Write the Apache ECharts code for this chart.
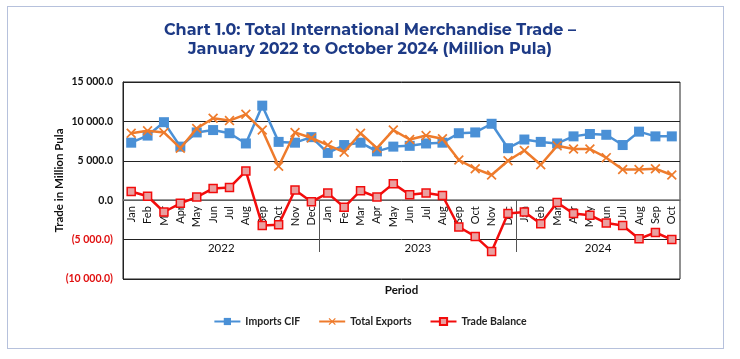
<!DOCTYPE html>
<html><head><meta charset="utf-8">
<script src="https://cdn.jsdelivr.net/npm/echarts@6/dist/echarts.min.js"></script>
<style>
html,body{margin:0;padding:0;background:#fff;}
#frame{position:absolute;left:7px;top:6px;width:717px;height:343px;border:1.5px solid #b6c1dc;box-sizing:border-box;}
#c{position:absolute;left:0;top:0;width:740px;height:359px;}
</style>
</head><body>
<div id="frame"></div>
<div id="c"></div>
<script>
const months = ['Jan','Feb','Mar','Apr','May','Jun','Jul','Aug','Sep','Oct','Nov','Dec',
  'Jan','Feb','Mar','Apr','May','Jun','Jul','Aug','Sep','Oct','Nov','Dec',
  'Jan','Feb','Mar','Apr','May','Jun','Jul','Aug','Sep','Oct'];
const years = ['2022','2023','2024'];
const monthsPerYear = [12, 12, 10];
const importsCIF = [7300,8200,9900,6800,8600,8900,8500,7200,12000,7400,7300,8000,
  6000,7000,7300,6200,6800,6900,7200,7300,8500,8600,9700,6600,
  7700,7400,7200,8100,8400,8300,7000,8700,8100,8100];
const totalExports = [8500,8800,8600,6600,9100,10400,10100,10900,8900,4300,8600,7900,
  7000,6100,8500,6600,8900,7700,8200,7800,5100,4000,3200,5000,
  6300,4500,6900,6500,6500,5400,3900,3900,4000,3200];
const tradeBalance = [1100,500,-1500,-400,400,1500,1600,3700,-3200,-3100,1300,-200,
  900,-900,1200,400,2100,700,900,600,-3400,-4600,-6500,-1700,
  -1500,-3000,-300,-1700,-1900,-2900,-3200,-4900,-4100,-5000];
const yTicks = [-10000,-5000,0,5000,10000,15000];

// year label centres and separators derived from months per year
const yearCentres = [], yearBounds = [];
let start = 0;
monthsPerYear.forEach((n,i)=>{ yearCentres.push(start + (n-1)/2); start += n; if(i<monthsPerYear.length-1) yearBounds.push(start-0.5); });

function fmt(v){
  const a = Math.abs(v);
  let s = a.toFixed(1);
  let [ip, dp] = s.split('.');
  ip = ip.replace(/\B(?=(\d{3})+(?!\d))/g, ' ');
  s = ip + '.' + dp;
  return v < 0 ? '{neg|(' + s + ')}' : '{pos|' + s + '}';
}

// layout
const H = 359, gridTop = 82, gridBottom = 80;
const plotH = H - gridTop - gridBottom;
const yMin = yTicks[0], yMax = yTicks[yTicks.length-1];
const zeroOffset = -plotH * (0 - yMin) / (yMax - yMin); // lift month axis to the zero line

const chart = echarts.init(document.getElementById('c'), null, {renderer:'canvas'});
const font = 'Lato, "Open Sans", sans-serif';
const xSym = 'path://M0,1.2L1.2,0L5,3.8L8.8,0L10,1.2L6.2,5L10,8.8L8.8,10L5,6.2L1.2,10L0,8.8L3.8,5Z';
chart.setOption({
  animation:false,
  title:{
    text:'Chart 1.0: Total International Merchandise Trade –\nJanuary 2022 to October 2024 (Million Pula)',
    left:'center', top:16,
    textStyle:{fontFamily:'Montserrat, Inter, sans-serif', fontWeight:'bold', fontSize:16, color:'#1d3a86', lineHeight:19}
  },
  legend:{
    top:311, left:'center', itemWidth:26, itemHeight:9, itemGap:18,
    textStyle:{fontFamily:font, fontSize:10.5, fontWeight:'bold', color:'#222'},
    data:['Imports CIF','Total Exports','Trade Balance']
  },
  grid:{left:123, right:60, top:gridTop, bottom:gridBottom, show:true, borderColor:'#222', borderWidth:1,
    containLabel:false, outerBoundsMode:'none'},
  xAxis:[{
    type:'category', data:months, boundaryGap:true, position:'bottom', offset:zeroOffset,
    name:'Period', nameLocation:'middle', nameGap:84, nameMoveOverlap:false,
    nameTextStyle:{fontFamily:font, fontWeight:'bold', fontSize:11.5, color:'#111'},
    axisLine:{onZero:false, lineStyle:{color:'#777', width:1.5}},
    axisTick:{show:false},
    axisLabel:{rotate:90, interval:0, fontFamily:font, fontSize:11, color:'#111', margin:6},
    splitLine:{show:false}
  },{
    type:'value', min:-0.5, max:33.5, position:'bottom', offset:-27,
    axisLine:{show:false, onZero:false},
    splitLine:{show:false},
    axisTick:{show:true, inside:true, length:52, customValues:yearBounds, lineStyle:{color:'#555', width:1}},
    axisLabel:{inside:true, margin:-2, customValues:yearCentres, fontFamily:font, fontSize:11.5, color:'#111',
      formatter:(v)=>{const i=yearCentres.indexOf(v); return i>=0?years[i]:'';}}
  }],
  yAxis:{
    type:'value', min:yMin, max:yMax, interval:5000,
    name:'Trade in Million Pula', nameLocation:'middle', nameGap:58, nameMoveOverlap:false,
    nameTextStyle:{fontFamily:font, fontWeight:'bold', fontSize:11.5, color:'#111'},
    axisLine:{show:true, onZero:false, lineStyle:{color:'#222'}},
    axisTick:{show:false},
    splitLine:{show:true, lineStyle:{color:'#222', width:1}},
    axisLabel:{margin:10, formatter:fmt, rich:{
      pos:{fontFamily:font, fontWeight:'bold', fontSize:10.5, color:'#111'},
      neg:{fontFamily:font, fontWeight:'bold', fontSize:10.5, color:'#e01010'}
    }}
  },
  series:[{
    name:'Imports CIF', type:'line', data:importsCIF,
    symbol:'rect', symbolSize:10,
    lineStyle:{color:'#4a90d6', width:2.5},
    itemStyle:{color:'#4a90d6'}, z:3
  },{
    name:'Total Exports', type:'line', data:totalExports,
    symbol:xSym, symbolSize:10,
    lineStyle:{color:'#ee7b2c', width:2.5},
    itemStyle:{color:'#ee7b2c'}, z:4
  },{
    name:'Trade Balance', type:'line', data:tradeBalance,
    symbol:'rect', symbolSize:8,
    lineStyle:{color:'#f20c0c', width:2.5},
    itemStyle:{color:'#e9a0a0', borderColor:'#f20c0c', borderWidth:1.5}, z:5
  }]
});
</script>
</body></html>
